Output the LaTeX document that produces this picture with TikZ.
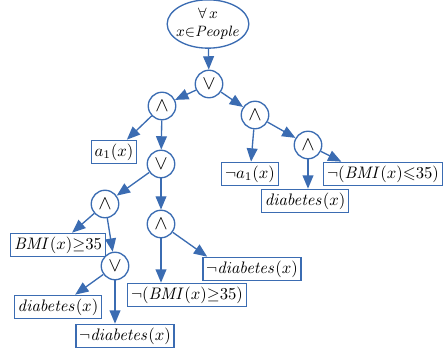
\documentclass[tikz,border=0pt]{standalone}
\usepackage{amssymb}
\usetikzlibrary{shapes.geometric,arrows.meta}
\definecolor{treeblue}{RGB}{59,108,178}
\begin{document}
\begin{tikzpicture}[x=0.6pt,y=-0.6pt,>={Triangle[length=8pt,width=6.5pt]},
	op/.style={circle,draw=treeblue,line width=0.8pt,minimum size=16.5pt,inner sep=0pt,font=\large},
	leaf/.style={rectangle,draw=treeblue,line width=0.8pt,inner sep=2pt,minimum height=13.5pt}]
					\useasboundingbox (0,0) rectangle (446,358);

					\node[ellipse,draw=treeblue,line width=0.8pt,minimum width=49pt,minimum height=29pt,inner sep=0pt] (Root) at (208,24) {};
					\node[align=center,font=\small,inner sep=0pt] (RootText) at (208,24) {$\forall\,x$\\$x{\in}\mathit{People}$};

					\node[op] (Or1) at (209,84) {$\vee$};
					\node[op] (And1) at (162,106) {$\wedge$};
					\node[op] (And2) at (255,115) {$\wedge$};
					\node[op] (Or2) at (161,164) {$\vee$};
					\node[op] (And3) at (105,204) {$\wedge$};
					\node[op] (And4) at (161,224) {$\wedge$};
					\node[op] (Or3) at (115,266) {$\vee$};
					\node[op] (And5) at (308,145) {$\wedge$};

					\node[leaf] (A1) at (114,152) {$a_1(x)$};
					\node[leaf] (NA1) at (250,174) {$\neg a_1(x)$};
					\node[leaf] (Diab2) at (305,201) {$\mathit{diabetes}(x)$};
					\node[leaf] (NBmi2) at (383,174) {$\neg(\mathit{BMI}(x){\leqslant}35)$};
					\node[leaf] (Bmi) at (58,245) {$\mathit{BMI}(x){\geq}35$};
					\node[leaf] (Diab1) at (58,307) {$\mathit{diabetes}(x)$};
					\node[leaf] (NDiab1) at (125,336) {$\neg\mathit{diabetes}(x)$};
					\node[leaf] (NBmi) at (187,295) {$\neg(\mathit{BMI}(x){\geq}35)$};
					\node[leaf] (NDiab2) at (252,269) {$\neg\mathit{diabetes}(x)$};


					\path [->,color=treeblue,line width=0.8pt] (Root) edge (Or1);
					\path [->,color=treeblue,line width=0.8pt] (Or1) edge (And1);
					\path [->,color=treeblue,line width=0.8pt] (Or1) edge (And2);
					\path [->,color=treeblue,line width=0.8pt] (And1) edge (A1);
					\path [->,color=treeblue,line width=0.8pt] (And1) edge (Or2);
					\path [->,color=treeblue,line width=0.8pt] (And2) edge (NA1);
					\path [->,color=treeblue,line width=0.8pt] (And2) edge (And5);
					\path [->,color=treeblue,line width=0.8pt] (And5) edge (And5 |- Diab2.north);
					\path [->,color=treeblue,line width=0.8pt] (And5) edge ([xshift=11pt]NBmi2.north west);
					\path [->,color=treeblue,line width=0.8pt] (Or2) edge (And3);
					\path [->,color=treeblue,line width=0.8pt] (Or2) edge (And4);
					\path [->,color=treeblue,line width=0.8pt] (And3) edge (Bmi);
					\path [->,color=treeblue,line width=0.8pt] (And3) edge (Or3);
					\path [->,color=treeblue,line width=0.8pt] (And4) edge (And4 |- NBmi.north);
					\path [->,color=treeblue,line width=0.8pt] (And4) edge ([xshift=3pt]NDiab2.north west);
					\path [->,color=treeblue,line width=0.8pt] (Or3) edge (Diab1);
					\path [->,color=treeblue,line width=0.8pt] (Or3) edge (Or3 |- NDiab1.north);
				\end{tikzpicture}
\end{document}
